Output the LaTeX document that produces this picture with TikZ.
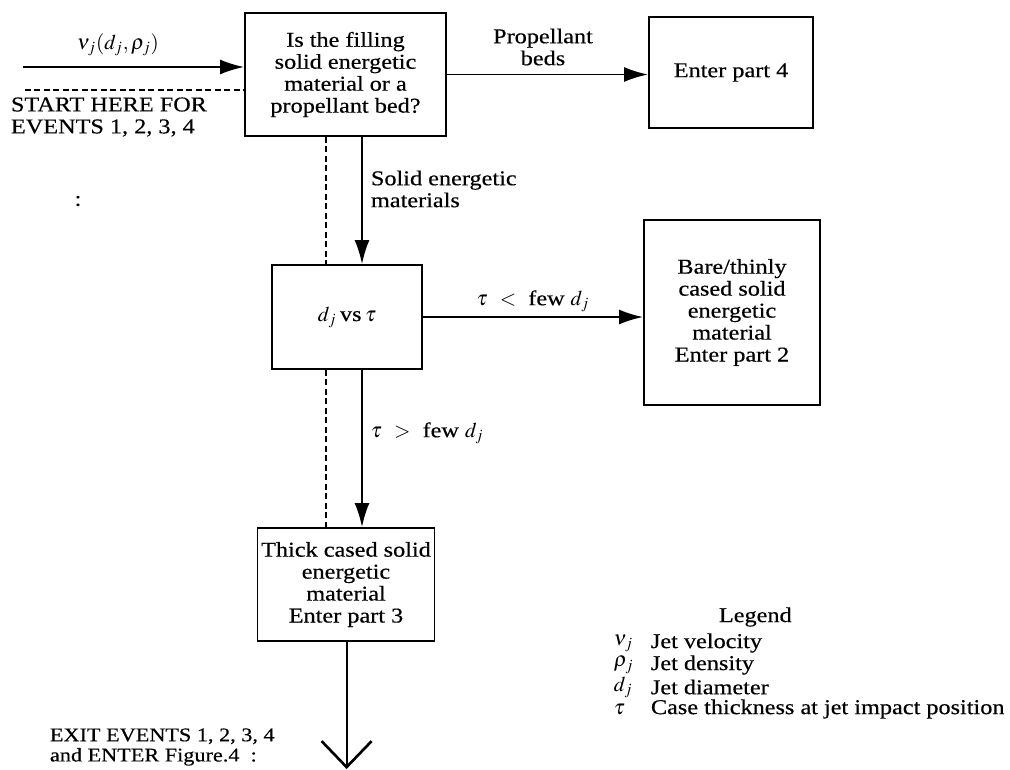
\documentclass[tikz,border=0pt]{standalone}
\usepackage{mathptmx}
\usepackage{fontspec}
\setmainfont{Liberation Serif}[FakeStretch=1.15,FakeBold=0.4]
\usetikzlibrary{arrows.meta}

\begin{document}
\begin{tikzpicture}[x=0.02cm,y=-0.02cm,line width=1.1pt,
    >={Latex[length=4.8mm,width=3mm]},
    box/.style={draw,align=center,inner sep=2pt,font=\fontsize{12}{12.5}\selectfont},
    lab/.style={align=center,inner sep=0pt,font=\fontsize{12}{12.5}\selectfont},
    dashes/.style={dash pattern=on 3.4pt off 2pt},
    exitarrow/.style={line width=1.1pt,-{Straight Barb[length=5.2mm,width=10mm,line width=1.5pt]}}]
    \useasboundingbox (0,0) rectangle (1010,769);

    \node[box,minimum width=4.02cm,minimum height=2.46cm] (fill) at (345.5,74.5)
        {Is the filling\\solid energetic\\material or a\\propellant bed?};
    \node[box,minimum width=3.28cm,minimum height=2.22cm] (part4) at (731,72.5) {Enter part 4};
    \node[box,minimum width=3.0cm,minimum height=2.08cm] (cmp) at (347,317) {$d_j$\,vs\,$\tau$};
    \node[box,minimum width=3.52cm,minimum height=3.7cm] (bare) at (732,312.5)
        {Bare/thinly\\cased solid\\energetic\\material\\Enter part 2};
    \node[box,minimum width=3.54cm,minimum height=2.26cm] (thick) at (346,584.5)
        {Thick cased solid\\energetic\\material\\Enter part 3};

    \coordinate (in) at (23,67);
    \coordinate (st) at (25,90);
    \coordinate (dashx) at (326,0);
    \coordinate (solidx) at (362,0);
    \coordinate (out) at (346.6,769);

    \draw[->] (in) -- (in -| fill.west);
    \draw[dashes] (st) -- (st -| fill.west);
    \draw[->] (fill.east) -- (fill.east -| part4.west);
    \draw[->] (fill.south -| solidx) -- (cmp.north -| solidx);
    \draw[->] (cmp.east) -- (cmp.east -| bare.west);
    \draw[->] (cmp.south -| solidx) -- (thick.north -| solidx);
    \draw[dashes] (fill.south -| dashx) -- (cmp.north -| dashx);
    \draw[dashes] (cmp.south -| dashx) -- (thick.north -| dashx);
    \draw[exitarrow] (thick.south -| out) -- (out);

    \node[lab] (vlab) at (118,45) {$\nu_j(d_j,\rho_j)$};
    \node[lab,anchor=west,align=left] (start) at (10,117) {START HERE FOR\\EVENTS 1, 2, 3, 4};
    \node[lab] (speck) at (78,201) {:};
    \node[lab] (beds) at (543,47) {Propellant\\beds};
    \node[lab,anchor=west,align=left] (solid) at (370,189) {Solid energetic\\materials};
    \node[lab] (less) at (533,301) {$\tau$\ \ $<$\ \ few $d_j$};
    \node[lab,anchor=west] (more) at (370,433) {$\tau$\ \ $>$\ \ few $d_j$};
    \node[lab,anchor=west,align=left,font=\fontsize{11}{11.5}\selectfont] (exit) at (49,747)
        {EXIT EVENTS 1, 2, 3, 4\\and ENTER Figure.4\ \ :};

    \node[lab,anchor=west] (legend) at (718,617) {Legend};
    \foreach \sym/\txt [count=\k] in {\nu_j/Jet velocity,\rho_j/Jet density,
        d_j/Jet diameter,\tau/Case thickness at jet impact position}{
        \node[lab,anchor=west] (sym\k) at (613,621+22*\k) {$\sym$};
        \node[lab,anchor=west] (txt\k) at (650,621+22*\k) {\txt};
    }

\end{tikzpicture}
\end{document}
